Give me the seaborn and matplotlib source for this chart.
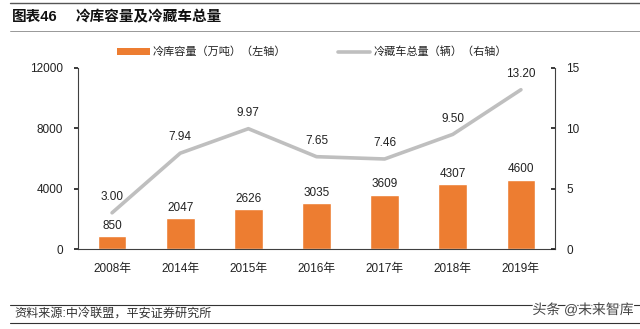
import numpy as np
import pandas as pd
import matplotlib
matplotlib.use("Agg")
import matplotlib.pyplot as plt
import matplotlib.patheffects as pe
from matplotlib.lines import Line2D
from matplotlib.patches import Patch
import seaborn as sns

# Data
years = ["2008年", "2014年", "2015年", "2016年", "2017年", "2018年", "2019年"]
storage = [850, 2047, 2626, 3035, 3609, 4307, 4600]          # 冷库容量（万吨）
trucks = [3.00, 7.94, 9.97, 7.65, 7.46, 9.50, 13.20]          # 冷藏车总量（万辆）
left_ticks = [0, 4000, 8000, 12000]
right_ticks = [0, 5, 10, 15]

sns.set_theme(style="white")
plt.rcParams["font.family"] = ["Liberation Sans", "Noto Sans CJK SC", "DejaVu Sans"]

ORANGE = "#ED7D31"
GREY = "#BFBFBF"
TXT = "#222222"

df = pd.DataFrame({"year": years, "storage": storage, "trucks": trucks})

fig = plt.figure(figsize=(6.4, 3.29), dpi=100)
ax = fig.add_axes([78 / 640, 1 - 249 / 329, (555 - 78) / 640, (249 - 68) / 329])

sns.barplot(data=df, x="year", y="storage", color=ORANGE, width=0.42,
            saturation=1, ax=ax)
ax.set_ylim(0, 12000)
ax.set_yticks(left_ticks)
ax.set_xlim(-0.5, len(years) - 0.5)
ax.bar_label(ax.containers[0], labels=[f"{v}" for v in storage],
             padding=3, fontsize=8.5, color=TXT)

ax2 = ax.twinx()
pos = np.arange(len(years))
sns.lineplot(x=pos, y=trucks, color=GREY, linewidth=2.6, ax=ax2)
ax2.set_ylim(0, 15)
ax2.set_yticks(right_ticks)
for x, v in zip(pos, trucks):
    ax2.annotate(f"{v:.2f}", (x, v), xytext=(0, 7), textcoords="offset points",
                 ha="center", va="bottom", fontsize=8.5, color=TXT)

# Axes styling
for a in (ax, ax2):
    a.set_xlabel("")
    a.set_ylabel("")
    a.spines["top"].set_visible(False)
    for s in ("left", "right", "bottom"):
        a.spines[s].set_color("#404040")
        a.spines[s].set_linewidth(0.8)
ax.spines["right"].set_visible(False)
ax2.spines["left"].set_visible(False)
ax2.spines["bottom"].set_visible(False)

ax.set_xticks(pos)
ax.set_xticklabels(years)
ax.set_xticks(np.arange(len(years) + 1) - 0.5, minor=True)
ax.tick_params(axis="x", which="major", length=0, pad=10, labelsize=8.5, colors=TXT)
ax.tick_params(axis="x", which="minor", length=3, direction="in", color="#404040")
ax.tick_params(axis="y", length=3, direction="out", pad=8, labelsize=8.5,
               colors=TXT, left=True)
ax2.tick_params(axis="y", length=3, direction="in", pad=8, labelsize=8.5,
                colors=TXT, right=True)
ax.grid(False)
ax2.grid(False)

# Legend
handles = [Patch(facecolor=ORANGE, edgecolor="none"),
           Line2D([0], [0], color=GREY, lw=2.6)]
labels = ["冷库容量（万吨）（左轴）", "冷藏车总量（辆）（右轴）"]
fig.legend(handles, labels, loc="center", bbox_to_anchor=(312 / 640, 1 - 52 / 329),
           ncol=2, frameon=False, fontsize=8, handlelength=2.9, handleheight=0.7,
           handletextpad=0.3, columnspacing=4.6, labelcolor=TXT)

# Title and rules
fig.add_artist(Line2D([10 / 640, 1], [1 - 3 / 329] * 2, color="#555555", lw=1.0))
fig.add_artist(Line2D([10 / 640, 1], [1 - 31 / 329] * 2, color="#888888", lw=0.6))
fig.text(12 / 640, 1 - 17 / 329, "图表46", fontsize=10.5, fontweight="bold",
         va="center", ha="left", color="#111111")
fig.text(76 / 640, 1 - 17 / 329, "冷库容量及冷藏车总量", fontsize=10.5,
         fontweight="bold", va="center", ha="left", color="#111111")

# Source footer
fig.add_artist(Line2D([10 / 640, 1], [1 - 305 / 329] * 2, color="#333333", lw=0.8))
fig.add_artist(Line2D([10 / 640, 1], [1 - 323 / 329] * 2, color="#333333", lw=0.8))
fig.text(14 / 640, 1 - 314 / 329, "资料来源:中冷联盟，平安证券研究所", fontsize=8.7,
         va="center", ha="left", color="#333333")
fig.text(0.99, 1 - 310 / 329, "头条 @未来智库", fontsize=10, va="center",
         ha="right", color="#444444",
         path_effects=[pe.withStroke(linewidth=2, foreground="white")])

fig.savefig("out.png", dpi=100)
